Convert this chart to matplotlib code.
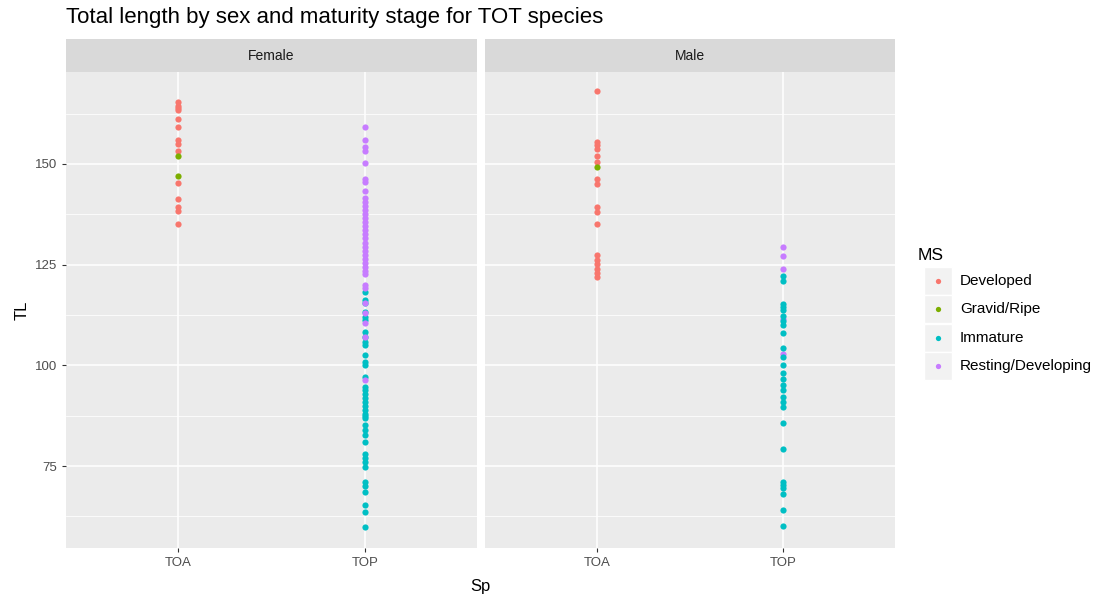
import matplotlib
matplotlib.use("Agg")
import matplotlib.pyplot as plt
from matplotlib.patches import Rectangle
from matplotlib.lines import Line2D

plt.rcParams['font.family'] = ['Liberation Sans', 'DejaVu Sans']

# stages and ggplot default hue colours
stages = ['Developed', 'Gravid/Ripe', 'Immature', 'Resting/Developing']
colors = ['#F8766D', '#7CAE00', '#00BFC4', '#C77CFF']
species = ['TOA', 'TOP']
sexes = ['Female', 'Male']

# Female
f_toa_dev = [165.3, 164.5, 164.0, 163.3, 161.2, 159.1, 156.0, 155.0, 153.3, 145.2, 141.2, 139.3, 138.3, 135.0]
f_toa_grav = [152.0, 147.0]
f_top_imm = [118.2, 116.2, 115.4, 113.3, 112.0, 111.2, 108.3, 107.1, 105.8, 105.0, 102.5, 100.9, 100.1,
             97.1, 94.7, 93.8, 93.0, 92.0, 91.0, 90.0, 89.0, 88.0, 87.5, 86.8, 85.2, 84.0, 82.7, 81.0,
             78.1, 77.0, 76.0, 74.8, 71.1, 70.0, 68.6, 65.3, 63.7, 59.9]
f_top_rest = [159.1, 156.0, 154.2, 153.2, 150.2, 146.3, 145.5, 143.2, 141.5, 140.5, 139.5, 138.5,
              137.5, 136.5, 135.5, 134.5, 133.5, 132.5, 131.5, 130.5, 129.5, 128.5, 127.5, 126.5,
              125.5, 124.5, 123.5, 122.8, 119.9, 119.1, 115.5, 113.0, 110.4, 107.0, 96.3]

# Male
m_toa_dev = [168.2, 155.4, 154.6, 153.8, 152.1, 150.4, 146.3, 145.1, 139.3, 138.0, 135.2,
             127.3, 126.2, 125.1, 124.0, 123.0, 121.9]
m_toa_grav = [149.2]
m_top_imm = [122.2, 120.9, 115.3, 114.5, 113.7, 112.2, 111.0, 109.9, 108.0, 104.2, 102.1, 100.0,
             98.0, 96.7, 95.1, 93.8, 92.2, 91.0, 89.7, 85.8, 79.1, 71.1, 70.3, 69.5, 68.1, 64.1, 60.1]
m_top_rest = [129.4, 127.1, 124.0, 111.4, 102.9]

panels = {
    'Female': [('TOA', 'Developed', f_toa_dev), ('TOA', 'Gravid/Ripe', f_toa_grav),
               ('TOP', 'Immature', f_top_imm), ('TOP', 'Resting/Developing', f_top_rest)],
    'Male': [('TOA', 'Developed', m_toa_dev), ('TOA', 'Gravid/Ripe', m_toa_grav),
             ('TOP', 'Resting/Developing', m_top_rest), ('TOP', 'Immature', m_top_imm)],
}

fig = plt.figure(figsize=(11, 5.99), dpi=100)
W, H = 1100, 599
bottom, top = 548, 72

def fx(px):
    return px / W

def fy(py):
    return 1 - py / H

lefts = [(66, 477), (485, 895)]
for (l, r), sex in zip(lefts, sexes):
    ax = fig.add_axes([fx(l), fy(bottom), fx(r - l), fy(top) - fy(bottom)])
    ax.set_facecolor('#EBEBEB')
    for sp, st, vals in panels[sex]:
        xi = species.index(sp) + 1
        ax.scatter([xi] * len(vals), vals, s=20, color=colors[stages.index(st)],
                   linewidths=0, zorder=3)
    ax.set_xlim(0.4, 2.6)
    ax.set_ylim(54.64, 172.84)
    ax.set_xticks([1, 2])
    ax.set_xticklabels(species)
    ax.set_yticks([75, 100, 125, 150])
    ax.set_yticks([62.5, 87.5, 112.5, 137.5, 162.5], minor=True)
    ax.grid(True, which='major', color='white', linewidth=1.1, zorder=0)
    ax.grid(True, which='minor', axis='y', color='white', linewidth=0.55, zorder=0)
    ax.set_axisbelow(True)
    for s in ax.spines.values():
        s.set_visible(False)
    ax.tick_params(which='both', length=3, color='#333333', labelsize=9.5, labelcolor='#4D4D4D')
    ax.tick_params(which='minor', length=0)
    if sex == 'Male':
        ax.tick_params(axis='y', labelleft=False, length=0)
    else:
        ax.set_ylabel('TL', fontsize=12, color='black', labelpad=4)
    # strip
    fig.add_artist(Rectangle((fx(l), fy(top)), fx(r - l), fy(39) - fy(top),
                             transform=fig.transFigure, facecolor='#D9D9D9', edgecolor='none'))
    fig.text(fx((l + r) / 2), fy(56), sex, ha='center', va='center', fontsize=10, color='#1A1A1A')

fig.text(fx(480), fy(586), 'Sp', ha='center', va='center', fontsize=12)
fig.text(fx(66), fy(18), 'Total length by sex and maturity stage for TOT species',
         ha='left', va='center', fontsize=16)

# legend
fig.text(fx(918), fy(255), 'MS', ha='left', va='center', fontsize=12.5)
rows = [281, 309, 338, 366]
for st, c, y in zip(stages, colors, rows):
    fig.add_artist(Rectangle((fx(924), fy(y + 14)), fx(28), fy(y - 14) - fy(y + 14),
                             transform=fig.transFigure, facecolor='#F2F2F2', edgecolor='white'))
    fig.add_artist(Line2D([fx(938)], [fy(y)], transform=fig.transFigure, marker='o',
                          markersize=3.8, color=c, markeredgewidth=0, linestyle='none'))
    fig.text(fx(960), fy(y), st, ha='left', va='center', fontsize=11)

fig.savefig('out.png', dpi=100)
